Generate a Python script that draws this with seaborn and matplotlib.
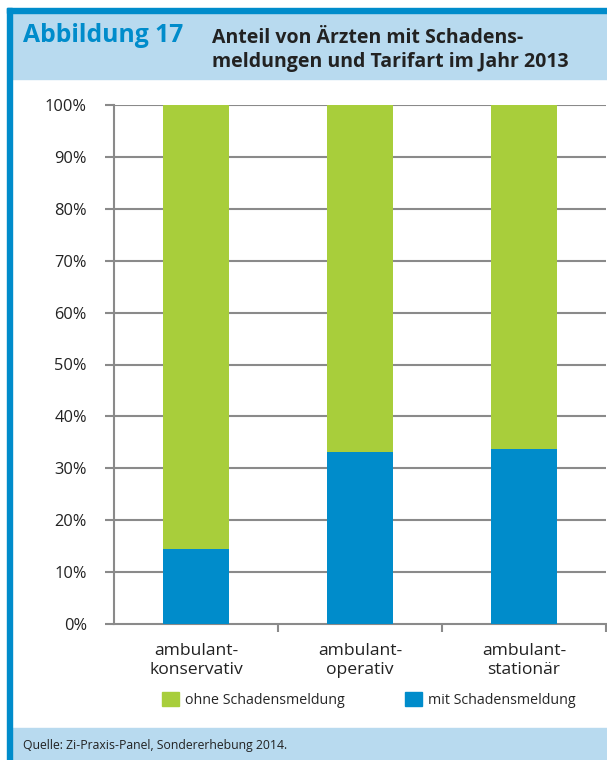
import matplotlib
matplotlib.use("Agg")
import matplotlib.pyplot as plt
from matplotlib.patches import Rectangle, Patch
import pandas as pd
import seaborn as sns

# Data
categories = ["ambulant-\nkonservativ", "ambulant-\noperativ", "ambulant-\nstationär"]
mit_schaden = [14.5, 33.1, 33.8]
ohne_schaden = [85.5, 66.9, 66.2]
series_labels = ["ohne Schadensmeldung", "mit Schadensmeldung"]
y_ticks = [0, 10, 20, 30, 40, 50, 60, 70, 80, 90, 100]

GREEN = "#A8CE3B"
BLUE = "#008CCB"
LIGHT = "#B8DAEF"
GRID = "#8A8A8A"

sns.set_theme(style="white")
plt.rcParams["font.family"] = ["Open Sans", "DejaVu Sans"]

W, H = 607, 760
fig = plt.figure(figsize=(W / 100, H / 100), dpi=100)


def fx(px):
    return px / W


def fy(py):
    return 1 - py / H


# Frame: header band, footer band, blue border lines
fig.patches.append(Rectangle((fx(12), fy(79)), fx(W - 12), (79 - 12) / H,
                             transform=fig.transFigure, color=LIGHT, zorder=0))
fig.patches.append(Rectangle((fx(12), 0), fx(W - 12), (H - 728) / H,
                             transform=fig.transFigure, color=LIGHT, zorder=0))
fig.patches.append(Rectangle((fx(7), fy(13)), fx(W - 7), 5 / H,
                             transform=fig.transFigure, color=BLUE, zorder=1))
fig.patches.append(Rectangle((fx(7), 0), fx(5), fy(8),
                             transform=fig.transFigure, color=BLUE, zorder=1))

fig.text(fx(23), fy(36), "Abbildung 17", color=BLUE, fontsize=17.8,
         fontweight="bold", va="center", ha="left")
fig.text(fx(212), fy(38), "Anteil von Ärzten mit Schadens-", color="#222222",
         fontsize=14, fontweight="bold", va="center", ha="left")
fig.text(fx(212), fy(62), "meldungen und Tarifart im Jahr 2013", color="#222222",
         fontsize=14, fontweight="bold", va="center", ha="left")
fig.text(fx(23), fy(745), "Quelle: Zi-Praxis-Panel, Sondererhebung 2014.",
         color="#222222", fontsize=8.8, va="center", ha="left")

# Chart
ax = fig.add_axes([fx(114), fy(624), fx(606) - fx(114), (624 - 105) / H])

df = pd.DataFrame({"Tarifart": categories,
                   "mit": mit_schaden,
                   "total": [m + o for m, o in zip(mit_schaden, ohne_schaden)]})

for y in y_ticks[1:]:
    ax.axhline(y, color=GRID, lw=1.5, zorder=0)

sns.barplot(data=df, x="Tarifart", y="total", color=GREEN, width=0.4,
            saturation=1, ax=ax, zorder=2, edgecolor="none")
sns.barplot(data=df, x="Tarifart", y="mit", color=BLUE, width=0.4,
            saturation=1, ax=ax, zorder=3, edgecolor="none")

ax.set_ylim(0, 100)
ax.set_xlim(-0.5, 2.5)
ax.set_yticks(y_ticks)
ax.set_yticklabels([f"{v}%" for v in y_ticks], fontsize=11.8, color="#222222")
ax.set_xticks([0, 1, 2])
ax.set_xticklabels(categories, fontsize=12.6, color="#222222", linespacing=1.2)
ax.set_xticks([0.5, 1.5, 2.5], minor=True)
ax.tick_params(axis="y", which="major", left=True, length=6.5, width=1.5,
               color=GRID, pad=13)
ax.tick_params(axis="x", which="major", bottom=False, pad=8)
ax.tick_params(axis="x", which="minor", bottom=True, length=6, width=1.5,
               color=GRID)
ax.set_xlabel("")
ax.set_ylabel("")
for side in ["top", "right"]:
    ax.spines[side].set_visible(False)
for side in ["left", "bottom"]:
    ax.spines[side].set_color(GRID)
    ax.spines[side].set_linewidth(1.5)
ax.patch.set_alpha(0)

handles = [Patch(color=GREEN), Patch(color=BLUE)]
leg = fig.legend(handles, series_labels, loc="center left",
                 bbox_to_anchor=(fx(149), fy(700)), ncol=2, frameon=False,
                 fontsize=10.3, handlelength=1.18, handleheight=1.18,
                 handletextpad=0.45, columnspacing=4.2)

fig.savefig("out.png", dpi=100)
